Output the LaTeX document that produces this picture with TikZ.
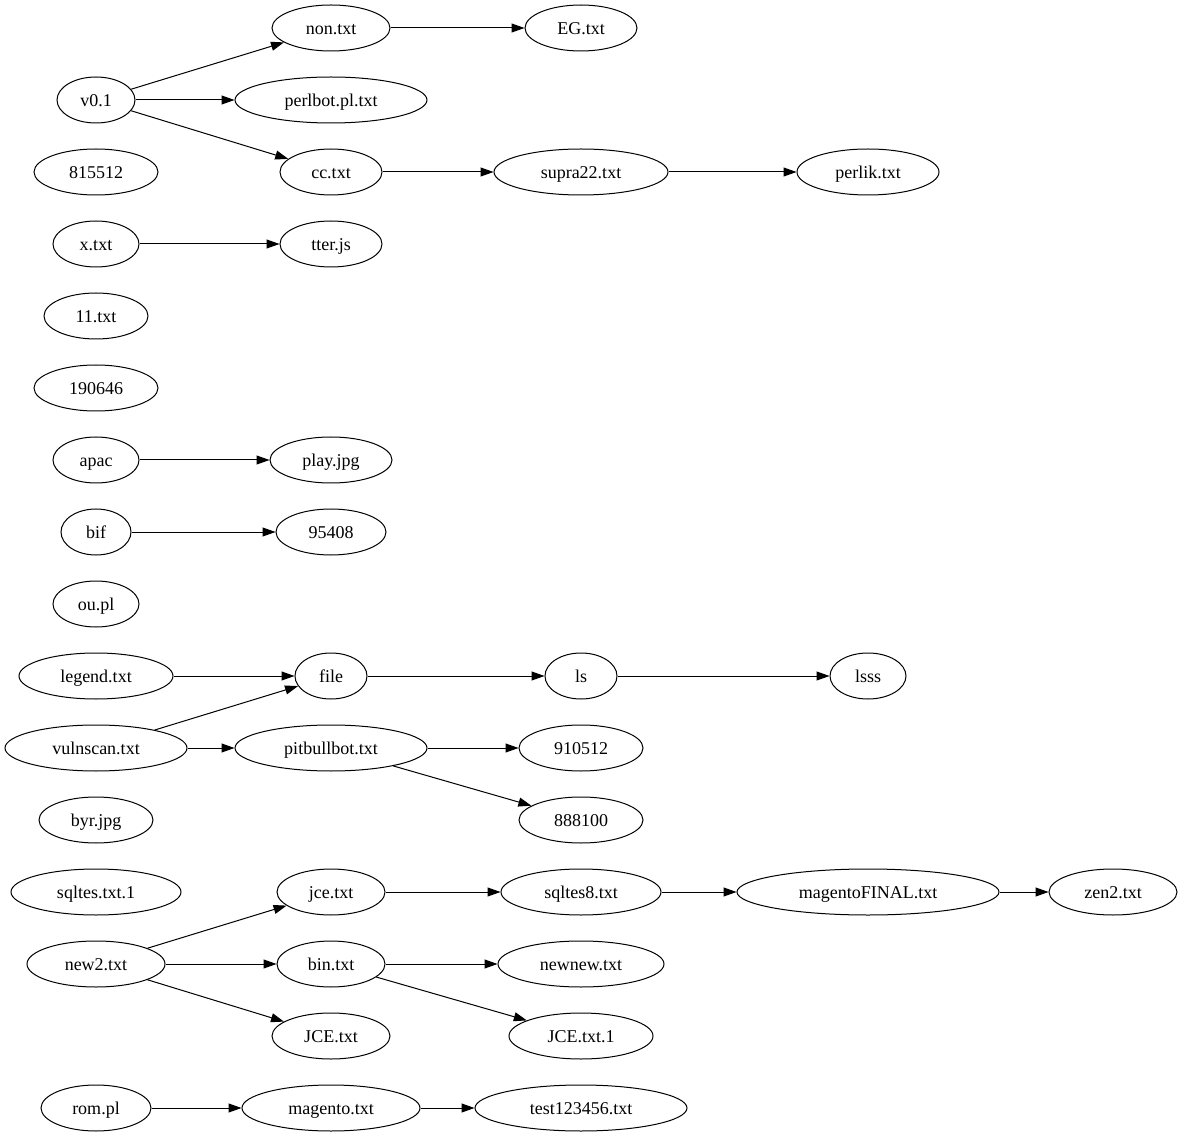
\documentclass[tikz,border=0pt]{standalone}
\usepackage{fontspec}
\setmainfont{Liberation Serif}
\usepackage{tikz}
\usetikzlibrary{
  arrows.meta,
  shapes.geometric
}

\begin{document}
\begin{tikzpicture}[x=1pt, y=-1pt,
    every node/.style={font=\fontsize{18}{20}\selectfont},
    fnode/.style={draw, ellipse, line width=1pt, inner sep=0pt, minimum height=46pt,
      text height=15pt, text depth=2pt},
    link/.style={line width=1pt, -{Triangle[length=13pt, width=9pt]}}]
            \useasboundingbox (0,0) rectangle (1184,1139);
            % first column (x = 96)
            \node[fnode, minimum width=78pt] (v01) at (96,100) {v0.1};
            \node[fnode, minimum width=124pt] (n815512) at (96,172) {815512};
            \node[fnode, minimum width=86pt] (xtxt) at (96,244) {x.txt};
            \node[fnode, minimum width=104pt] (eleven) at (96,316) {11.txt};
            \node[fnode, minimum width=124pt] (n190646) at (96,388) {190646};
            \node[fnode, minimum width=86pt] (apac) at (96,460) {apac};
            \node[fnode, minimum width=70pt] (bif) at (96,532) {bif};
            \node[fnode, minimum width=86pt] (oupl) at (96,604) {ou.pl};
            \node[fnode, minimum width=154pt] (legend) at (96,676) {legend.txt};
            \node[fnode, minimum width=182pt] (vulnscan) at (96,748) {vulnscan.txt};
            \node[fnode, minimum width=114pt] (byr) at (96,820) {byr.jpg};
            \node[fnode, minimum width=170pt] (sqltes1) at (96,892) {sqltes.txt.1};
            \node[fnode, minimum width=138pt] (new2) at (96,964) {new2.txt};
            \node[fnode, minimum width=110pt] (rompl) at (96,1108) {rom.pl};

            % second column (x = 331)
            \node[fnode, minimum width=118pt] (non) at (331,28) {non.txt};
            \node[fnode, minimum width=192pt] (perlbot) at (331,100) {perlbot.pl.txt};
            \node[fnode, minimum width=102pt] (cc) at (331,172) {cc.txt};
            \node[fnode, minimum width=102pt] (tter) at (331,244) {tter.js};
            \node[fnode, minimum width=122pt] (play) at (331,460) {play.jpg};
            \node[fnode, minimum width=110pt] (n95408) at (331,532) {95408};
            \node[fnode, minimum width=72pt] (file) at (331,676) {file};
            \node[fnode, minimum width=192pt] (pitbull) at (331,748) {pitbullbot.txt};
            \node[fnode, minimum width=108pt] (jce) at (331,892) {jce.txt};
            \node[fnode, minimum width=108pt] (bin) at (331,964) {bin.txt};
            \node[fnode, minimum width=118pt] (JCE) at (331,1036) {JCE.txt};
            \node[fnode, minimum width=178pt] (magento) at (331,1108) {magento.txt};

            % third column (x = 581)
            \node[fnode, minimum width=112pt] (eg) at (581,28) {EG.txt};
            \node[fnode, minimum width=174pt] (supra) at (581,172) {supra22.txt};
            \node[fnode, minimum width=72pt] (ls) at (581,676) {ls};
            \node[fnode, minimum width=124pt] (n910512) at (581,748) {910512};
            \node[fnode, minimum width=124pt] (n888100) at (581,820) {888100};
            \node[fnode, minimum width=160pt] (sqltes8) at (581,892) {sqltes8.txt};
            \node[fnode, minimum width=166pt] (newnew) at (581,964) {newnew.txt};
            \node[fnode, minimum width=144pt] (JCEone) at (581,1036) {JCE.txt.1};
            \node[fnode, minimum width=212pt] (test) at (581,1108) {test123456.txt};

            % fourth and fifth column
            \node[fnode, minimum width=142pt] (perlik) at (868,172) {perlik.txt};
            \node[fnode, minimum width=76pt] (lsss) at (868,676) {lsss};
            \node[fnode, minimum width=262pt] (magfinal) at (868,892) {magentoFINAL.txt};
            \node[fnode, minimum width=128pt] (zen2) at (1113,892) {zen2.txt};

            % edges
            \draw[link] (non) -- (eg);
            \draw[link] (v01) -- (non);
            \draw[link] (v01) -- (perlbot);
            \draw[link] (v01) -- (cc);
            \draw[link] (cc) -- (supra);
            \draw[link] (supra) -- (perlik);
            \draw[link] (xtxt) -- (tter);
            \draw[link] (apac) -- (play);
            \draw[link] (bif) -- (n95408);
            \draw[link] (legend) -- (file);
            \draw[link] (vulnscan) -- (file);
            \draw[link] (vulnscan) -- (pitbull);
            \draw[link] (file) -- (ls);
            \draw[link] (ls) -- (lsss);
            \draw[link] (pitbull) -- (n910512);
            \draw[link] (pitbull) -- (n888100);
            \draw[link] (jce) -- (sqltes8);
            \draw[link] (sqltes8) -- (magfinal);
            \draw[link] (magfinal) -- (zen2);
            \draw[link] (new2) -- (jce);
            \draw[link] (new2) -- (bin);
            \draw[link] (new2) -- (JCE);
            \draw[link] (bin) -- (newnew);
            \draw[link] (bin) -- (JCEone);
            \draw[link] (rompl) -- (magento);
            \draw[link] (magento) -- (test);
        \end{tikzpicture}
\end{document}
